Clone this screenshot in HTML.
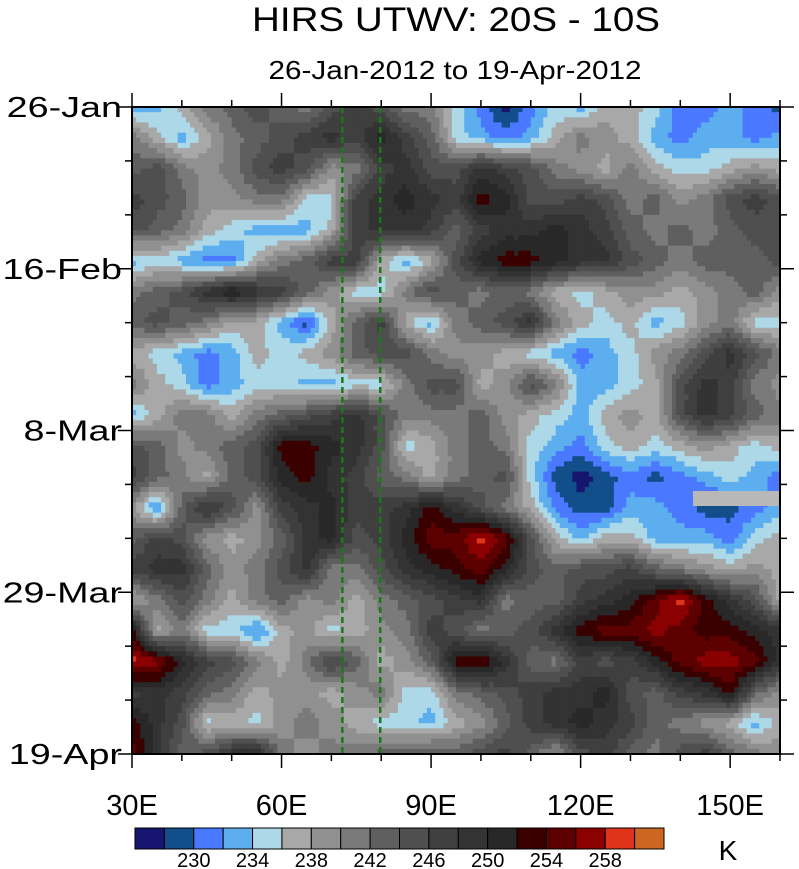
<!DOCTYPE html>
<html><head><meta charset="utf-8"><style>
body{margin:0;background:#fff;}
svg{display:block;font-family:"Liberation Sans",sans-serif;}
</style></head><body>
<svg id="chart" width="799" height="869" viewBox="0 0 799 869">
<text x="456" y="31" font-size="34" text-anchor="middle" textLength="408" lengthAdjust="spacingAndGlyphs">HIRS UTWV: 20S - 10S</text>
<text x="455" y="79" font-size="26" text-anchor="middle" textLength="373" lengthAdjust="spacingAndGlyphs">26-Jan-2012 to 19-Apr-2012</text>
<g id="field"></g>
<g id="axes"></g>
<g id="cbar"></g>
<text x="728" y="860" font-size="28" text-anchor="middle">K</text>
</svg>
<script>
const lons = [30,35,40,45,50,55,60,65,70,75,80,85,90,95,100,105,110,115,120,125,130,135,140,145,150,155,160];
const days = [0,4,8,12,16,20,24,28,32,36,40,44,48,52,56,60,64,68,72,76,80,84];
const field = [
[233,233,237,241,243,245,243,241,245,247,245,241,241,235,231,227,231,235,233,237,237,235,231,231,233,231,229],
[241,237,233,237,241,243,245,247,249,247,251,247,243,235,233,231,233,237,241,239,237,233,231,233,233,231,233],
[243,245,241,239,241,245,247,245,239,241,247,249,245,245,249,247,245,241,239,237,241,237,235,235,237,239,237],
[247,245,243,239,239,241,241,235,235,247,249,251,249,247,253,251,245,245,247,245,241,243,239,241,245,247,245],
[245,243,241,237,235,233,233,233,237,247,249,249,247,243,247,249,249,251,249,247,243,241,243,241,243,245,245],
[233,235,233,231,231,237,241,243,247,247,237,233,237,245,251,253,253,251,249,249,245,243,241,243,243,243,245],
[241,243,245,249,252,249,247,243,239,235,235,241,245,243,241,243,241,237,235,237,239,239,237,239,241,243,239],
[243,245,243,241,237,237,233,229,237,243,247,237,233,241,243,245,249,241,237,235,237,233,235,239,241,235,235],
[237,235,233,231,233,237,235,237,239,243,245,245,241,239,239,237,235,233,231,233,235,239,241,245,249,245,241],
[241,237,235,231,233,235,235,233,233,235,235,241,245,245,237,239,245,241,233,233,235,237,245,249,247,241,239],
[233,237,241,241,237,241,243,245,247,249,245,241,241,241,243,239,237,235,233,237,239,237,245,249,247,243,241],
[245,243,239,241,243,245,253,253,251,249,245,235,237,241,243,241,235,233,231,235,237,235,237,239,237,235,237],
[247,243,241,237,243,245,251,253,249,247,243,241,237,241,243,245,235,229,227,229,231,229,231,233,235,233,231],
[239,231,243,249,245,239,247,249,251,247,247,249,253,249,245,241,237,231,229,229,233,233,231,229,229,231,233],
[243,247,245,239,237,239,243,249,251,245,247,251,255,255,259,255,245,237,233,237,237,233,233,233,231,235,237],
[247,249,249,243,239,241,245,249,241,241,245,249,251,253,255,251,245,243,245,245,247,243,241,239,237,239,237],
[237,241,245,241,237,241,243,239,241,237,241,243,245,247,249,241,243,243,247,249,251,255,259,253,249,245,237],
[253,237,241,235,235,231,237,239,235,237,239,241,247,245,241,243,245,249,253,255,255,257,255,253,253,251,249],
[259,257,251,247,245,241,237,241,247,243,237,239,243,253,255,249,243,241,247,245,247,251,255,257,257,255,249],
[247,249,247,243,241,237,239,239,237,239,241,235,235,241,243,245,247,249,249,251,245,243,247,249,253,243,239],
[253,249,245,235,237,235,239,241,239,237,235,235,233,237,239,243,247,249,251,249,247,243,241,239,237,233,237],
[255,249,243,245,249,251,241,239,241,241,243,243,245,243,245,247,243,239,245,247,243,241,245,247,243,241,239]
];
const levels = [228,230,232,234,236,238,240,242,244,246,248,250,252,254,256,258,260];
const colors = ["#161670","#124e8a","#4a78ff","#5caeee","#acd8e8","#a8a8a8","#909090","#7a7a7a","#5f5f5f","#4f4f4f","#3f3f3f","#333333","#282828","#3a0000","#5c0000","#8b0000","#e0341a","#cc6620"];
const cbarLabels = [230,234,238,242,246,250,254,258];
const xTicks = [30,60,90,120,150];
const xTickLabels = ["30E","60E","90E","120E","150E"];
const yTicks = [0,21,42,63,84];
const yTickLabels = ["26-Jan","16-Feb","8-Mar","29-Mar","19-Apr"];
const markerLons = [72.2,79.8];

const X0=132,X1=780,Y0=107,Y1=754;
const xS = l => X0 + (l-30)*(X1-X0)/130;
const yS = d => Y0 + d*(Y1-Y0)/84;
const NS='http://www.w3.org/2000/svg';
function mk(t,a,p){const e=document.createElementNS(NS,t);for(const k in a)e.setAttribute(k,a[k]);p.appendChild(e);return e;}
function colorFor(v){let i=0;while(i<levels.length&&v>=levels[i])i++;return colors[i];}

const fg=document.getElementById('field');
const SUB=6;
for(let r=0;r<days.length-1;r++){
  for(let c=0;c<lons.length-1;c++){
    const a=field[r][c],b=field[r][c+1],cc=field[r+1][c],d=field[r+1][c+1];
    const xa=xS(lons[c]),xb=xS(lons[c+1]),ya=yS(days[r]),yb=yS(days[r+1]);
    const w=(xb-xa)/SUB,h=(yb-ya)/SUB;
    for(let i=0;i<SUB;i++)for(let j=0;j<SUB;j++){
      const u=(i+0.5)/SUB,v=(j+0.5)/SUB;
      const val=a*(1-u)*(1-v)+b*u*(1-v)+cc*(1-u)*v+d*u*v;
      const e=mk('rect',{x:(xa+i*w).toFixed(2),y:(ya+j*h).toFixed(2),width:(w+0.6).toFixed(2),height:(h+0.6).toFixed(2),fill:colorFor(val)},fg);
      
      
    }
  }
}
const md=mk('rect',{x:693,y:491,width:87,height:15,fill:"#b8b8b8"},fg);


markerLons.forEach(l=>{
  const e=mk('line',{x1:xS(l),x2:xS(l),y1:Y0,y2:Y1,stroke:"#1a7a1a","stroke-width":2.5,"stroke-dasharray":"6,4"},fg);
  
  
});

const ax=document.getElementById('axes');
const fr=mk('rect',{x:X0,y:Y0,width:X1-X0,height:Y1-Y0,fill:"none",stroke:"#000","stroke-width":2},ax);


for(let l=30;l<=160;l+=10){
  const x=xS(l),major=xTicks.includes(l),len=major?14:7;
  mk('line',{x1:x,x2:x,y1:Y1,y2:Y1+len,stroke:"#000","stroke-width":1.5},ax);
  mk('line',{x1:x,x2:x,y1:Y0,y2:Y0-len,stroke:"#000","stroke-width":1.5},ax);
}
xTicks.forEach((l,i)=>{
  const t=mk('text',{x:xS(l),y:815,"font-size":29,"text-anchor":"middle"},ax);
  t.textContent=xTickLabels[i];
  
  
});
for(let d=0;d<=84;d+=7){
  const y=yS(d),major=yTicks.includes(d),len=major?14:7;
  mk('line',{x1:X0,x2:X0-len,y1:y,y2:y,stroke:"#000","stroke-width":1.5},ax);
  mk('line',{x1:X1,x2:X1+len,y1:y,y2:y,stroke:"#000","stroke-width":1.5},ax);
}
yTicks.forEach((d,i)=>{
  const t=mk('text',{x:122,y:yS(d)+10,"font-size":29,"text-anchor":"end","lengthAdjust":"spacingAndGlyphs"},ax);
  t.textContent=yTickLabels[i];
  
  
  const L=t.getComputedTextLength();
  if(L>0)t.setAttribute('textLength',(L*1.3).toFixed(1));
});

const cb=document.getElementById('cbar');
const CX0=135,CX1=664,CY=828,CH=21,bw=(CX1-CX0)/colors.length;
colors.forEach((c,i)=>{
  const e=mk('rect',{x:CX0+i*bw,y:CY,width:bw,height:CH,fill:c,stroke:"#000","stroke-width":1},cb);
  
  
});
cbarLabels.forEach(v=>{
  const i=levels.indexOf(v)+1;
  const t=mk('text',{x:CX0+i*bw,y:867,"font-size":20,"text-anchor":"middle"},cb);
  t.textContent=v;
  
  
});
</script>
</body></html>
